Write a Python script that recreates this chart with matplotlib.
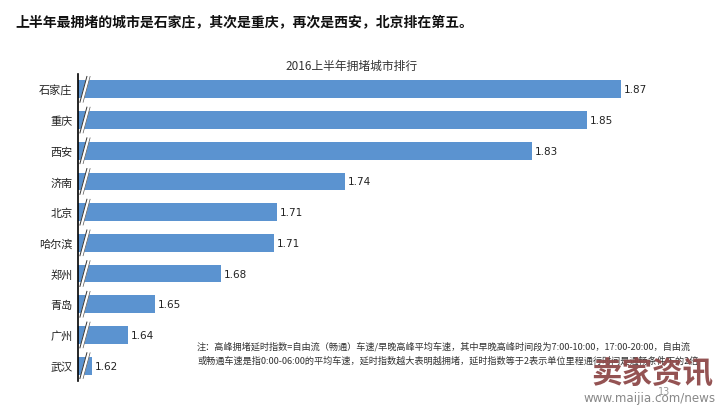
import matplotlib.pyplot as plt
import numpy as np

plt.rcParams['font.family'] = ['Noto Sans CJK SC', 'DejaVu Sans']

cities = ['石家庄', '重庆', '西安', '济南', '北京', '哈尔滨', '郑州', '青岛', '广州', '武汉']
# delay index (labels show 2 decimals)
index_vals = [1.870, 1.854, 1.828, 1.7396, 1.7074, 1.706, 1.681, 1.6498, 1.637, 1.620]

headline = '上半年最拥堵的城市是石家庄，其次是重庆，再次是西安，北京排在第五。'
chart_title = '2016上半年拥堵城市排行'
note = ('注：高峰拥堵延时指数=自由流（畅通）车速/早晚高峰平均车速，其中早晚高峰时间段为7:00-10:00，17:00-20:00，自由流\n'
        '或畅通车速是指0:00-06:00的平均车速，延时指数越大表明越拥堵，延时指数等于2表示单位里程通行时间是通畅条件下的2倍')

W, H = 718, 410
fig = plt.figure(figsize=(W / 100, H / 100), dpi=100)
x0, x1 = 78, 700
y_top, y_bot = 75, 382
ax = fig.add_axes([x0 / W, 1 - y_bot / H, (x1 - x0) / W, (y_bot - y_top) / H])

v0 = 1.6134
k = 2116.0
ax.set_xlim(v0, v0 + (x1 - x0) / k)
ax.set_ylim(len(cities) - 0.5, -0.5)

y = np.arange(len(cities))
ax.barh(y, np.array(index_vals) - v0, left=v0, height=0.58, color='#5b93d0', zorder=2)

for yi, v in zip(y, index_vals):
    ax.text(v + 0.0015, yi, f'{v:.2f}', va='center', ha='left', fontsize=7.5,
            family='DejaVu Sans', color='#222222')

# axis break marks
for yi in y:
    bx = v0 + 7 / k
    dx = 3.5 / k
    ax.plot([bx - dx, bx + dx], [yi + 0.42, yi - 0.42], color='white', lw=2.6,
            zorder=3, solid_capstyle='butt')
    ax.plot([bx - dx - 1.6 / k, bx + dx - 1.6 / k], [yi + 0.42, yi - 0.42],
            color='#333333', lw=0.7, zorder=4)
    ax.plot([bx - dx + 1.6 / k, bx + dx + 1.6 / k], [yi + 0.42, yi - 0.42],
            color='#555555', lw=0.5, zorder=4)

ax.set_yticks(y)
ax.set_yticklabels(cities, fontsize=8, color='#222222')
ax.tick_params(axis='y', length=0, pad=4)
ax.set_xticks([])
for s in ['top', 'right', 'bottom']:
    ax.spines[s].set_visible(False)
ax.spines['left'].set_linewidth(1.2)
ax.spines['left'].set_color('black')

fig.text(15 / W, 1 - 22 / H, headline, fontsize=10.0, fontweight='bold',
         va='center', ha='left', color='#111111')
fig.text(352 / W, 1 - 66 / H, chart_title, fontsize=8.5, va='center', ha='center',
         color='#333333')
fig.text(197 / W, 1 - 354 / H, note, fontsize=6.6, va='center', ha='left',
         color='#333333', linespacing=1.65)

# watermark
fig.text(664 / W, 1 - 392 / H, '13', fontsize=7, family='DejaVu Sans',
         va='center', ha='center', color='#999999')
fig.text(652 / W, 1 - 374 / H, '卖家资讯', fontsize=22, fontweight='heavy',
         va='center', ha='center', color='#8e4a4a', alpha=0.95)
fig.text(650 / W, 1 - 399 / H, 'www.maijia.com/news', fontsize=8.6,
         family='DejaVu Sans', va='center', ha='center', color='#888888')

fig.savefig('out.png', dpi=100, facecolor='white')
